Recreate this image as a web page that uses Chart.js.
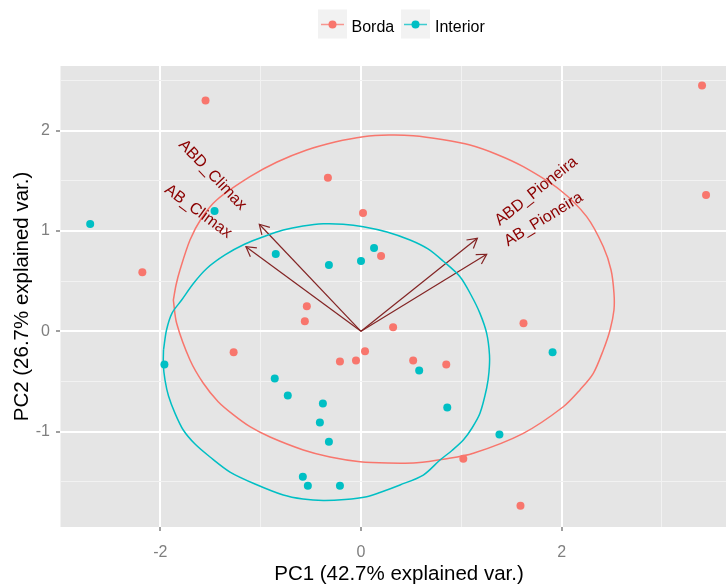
<!DOCTYPE html>
<html>
<head>
<meta charset="utf-8">
<script src="https://cdn.jsdelivr.net/npm/chart.js@4.4.1/dist/chart.umd.min.js"></script>
<style>
  html, body { margin: 0; padding: 0; background: #fff; }
  #wrap { width: 726px; height: 585px; }
</style>
</head>
<body>
<div id="wrap"><canvas id="pcaChart"></canvas></div>
<script>
// PCA scores (PC1, PC2)
const bordaPC1 = [-1.55, -0.33, 0.02, -2.18, 0.20, 3.40, 3.44, -0.54, -0.56, -1.27, 0.04, -0.21, -0.05, 0.32, 0.52, 0.85, 1.62, 1.02, 1.59];
const bordaPC2 = [2.30, 1.53, 1.18, 0.59, 0.75, 2.45, 1.36, 0.25, 0.10, -0.21, -0.20, -0.30, -0.29, 0.04, -0.29, -0.33, 0.08, -1.27, -1.74];
const interiorPC1 = [-1.46, -2.70, -0.85, -0.32, 0.00, 0.13, -1.96, -0.86, -0.73, -0.38, -0.41, -0.32, -0.58, -0.53, -0.21, 0.58, 0.86, 1.91, 1.38];
const interiorPC2 = [1.20, 1.07, 0.77, 0.66, 0.70, 0.83, -0.33, -0.47, -0.64, -0.72, -0.91, -1.10, -1.45, -1.54, -1.54, -0.39, -0.76, -0.21, -1.03];

// ellipse outlines
const bordaEllX = [-1.871, -1.844, -1.805, -1.705, -1.595, -1.439, -1.107, -0.837, -0.541, -0.259, 0.023, 0.279, 0.521, 0.808, 1.087, 1.356, 1.618, 1.984, 2.250, 2.416, 2.493, 2.522, 2.522, 2.483, 2.416, 2.316, 2.183, 2.017, 1.618, 1.120, 0.837, 0.555, 0.269, -0.010, -0.309, -0.575, -0.907, -1.107, -1.274, -1.424, -1.572, -1.705, -1.838, -1.871];
const bordaEllY = [0.312, 0.462, 0.611, 0.910, 1.120, 1.309, 1.541, 1.688, 1.808, 1.887, 1.940, 1.957, 1.950, 1.912, 1.857, 1.763, 1.641, 1.409, 1.143, 0.843, 0.611, 0.382, 0.212, 0.013, -0.186, -0.419, -0.584, -0.752, -1.017, -1.216, -1.273, -1.310, -1.313, -1.300, -1.253, -1.183, -1.054, -0.951, -0.831, -0.702, -0.518, -0.286, 0.080, 0.312];
const interiorEllX = [-1.969, -1.939, -1.884, -1.788, -1.675, -1.538, -1.356, -1.157, -0.967, -0.775, -0.578, -0.376, -0.179, 0.023, 0.259, 0.489, 0.668, 0.818, 0.987, 1.097, 1.186, 1.253, 1.281, 1.276, 1.253, 1.186, 1.107, 1.020, 0.907, 0.788, 0.621, 0.389, 0.189, 0.057, -0.160, -0.376, -0.578, -0.775, -1.057, -1.306, -1.505, -1.655, -1.772, -1.854, -1.919, -1.954, -1.971, -1.969];
const interiorEllY = [-0.186, 0.013, 0.182, 0.312, 0.472, 0.626, 0.761, 0.870, 0.945, 1.010, 1.050, 1.072, 1.068, 1.043, 0.990, 0.910, 0.821, 0.701, 0.544, 0.362, 0.179, -0.020, -0.236, -0.406, -0.565, -0.818, -0.964, -1.084, -1.188, -1.283, -1.433, -1.532, -1.607, -1.649, -1.677, -1.687, -1.672, -1.632, -1.522, -1.403, -1.253, -1.124, -0.984, -0.818, -0.645, -0.486, -0.336, -0.186];

// variable loadings (arrow tips)
const varNames = ['ABD_Climax', 'AB_Climax', 'ABD_Pioneira', 'AB_Pioneira'];
const varPC1 = [-1.014, -1.147, 1.160, 1.253];
const varPC2 = [1.067, 0.844, 0.927, 0.768];

const groupNames = ['Borda', 'Interior'];
const groupColors = ['#F8766D', '#00BFC4'];

const xTickValues = [-3, -2, -1, 0, 1, 2, 3];
const xTickLabels = [-2, 0, 2];
const yTickValues = [-1.5, -1, -0.5, 0, 0.5, 1, 1.5, 2, 2.5];
const yTickLabels = [-1, 0, 1, 2];

const xTitle = 'PC1 (42.7% explained var.)';
const yTitle = 'PC2 (26.7% explained var.)';

const FONT = "'Liberation Sans', Arial, Helvetica, sans-serif";
const arrowColor = '#832424';
const labelColor = '#8B0000';

function toXY(xs, ys) {
  return xs.map((x, i) => ({ x: x, y: ys[i] }));
}

const arrowSets = varNames.map((name, i) => ({
  label: name,
  isArrow: true,
  data: [{ x: 0, y: 0 }, { x: varPC1[i], y: varPC2[i] }],
  showLine: true,
  borderColor: arrowColor,
  borderWidth: 1.2,
  pointRadius: 0,
  tension: 0
}));

function ellipseSet(xs, ys, color) {
  return {
    data: toXY(xs, ys),
    showLine: true,
    borderColor: color,
    borderWidth: 1.5,
    pointRadius: 0,
    tension: 0.3
  };
}

function pointSet(name, xs, ys, color) {
  return {
    label: name,
    data: toXY(xs, ys),
    backgroundColor: color,
    borderColor: color,
    borderWidth: 0,
    pointRadius: 4
  };
}

// index 0 is drawn on top
const datasets = [
  ellipseSet(interiorEllX, interiorEllY, groupColors[1]),
  ellipseSet(bordaEllX, bordaEllY, groupColors[0]),
  pointSet('Interior', interiorPC1, interiorPC2, groupColors[1]),
  pointSet('Borda', bordaPC1, bordaPC2, groupColors[0]),
  ...arrowSets
];

// panel background, arrow heads, variable labels, legend, axis titles
const biplotExtras = {
  id: 'biplotExtras',
  beforeDraw(chart) {
    const { ctx, chartArea: a } = chart;
    ctx.save();
    ctx.fillStyle = '#E5E5E5';
    ctx.fillRect(a.left, a.top, a.right - a.left, a.bottom - a.top);
    ctx.restore();
  },
  afterDatasetDraw(chart, args) {
    const ds = chart.data.datasets[args.index];
    if (!ds.isArrow) return;
    const [o, tip] = args.meta.data;
    const ang = Math.atan2(tip.y - o.y, tip.x - o.x);
    const len = 11;
    const ctx = chart.ctx;
    ctx.save();
    ctx.strokeStyle = arrowColor;
    ctx.lineWidth = 1.2;
    ctx.beginPath();
    ctx.moveTo(tip.x - len * Math.cos(ang - Math.PI / 6), tip.y - len * Math.sin(ang - Math.PI / 6));
    ctx.lineTo(tip.x, tip.y);
    ctx.lineTo(tip.x - len * Math.cos(ang + Math.PI / 6), tip.y - len * Math.sin(ang + Math.PI / 6));
    ctx.stroke();
    ctx.restore();
  },
  afterDatasetsDraw(chart) {
    const ctx = chart.ctx;
    ctx.save();
    ctx.font = '16px ' + FONT;
    ctx.fillStyle = labelColor;
    ctx.textAlign = 'center';
    ctx.textBaseline = 'middle';
    chart.data.datasets.forEach((ds, i) => {
      if (!ds.isArrow) return;
      const [o, tip] = chart.getDatasetMeta(i).data;
      const dx = tip.x - o.x, dy = tip.y - o.y;
      const theta = Math.atan(dy / dx);
      const w = ctx.measureText(ds.label).width;
      // hjust like ggbiplot: text starts a quarter width past the tip
      const s = Math.sign(dx) * 0.75 * w;
      ctx.save();
      ctx.translate(tip.x + s * Math.cos(theta), tip.y + s * Math.sin(theta));
      ctx.rotate(theta);
      ctx.fillText(ds.label, 0, 0);
      ctx.restore();
    });
    ctx.restore();
  },
  afterDraw(chart) {
    const ctx = chart.ctx;
    ctx.save();
    // legend
    const keyX = [318, 401];
    const textX = [351.5, 435];
    groupNames.forEach((name, i) => {
      ctx.fillStyle = '#F2F2F2';
      ctx.fillRect(keyX[i], 9.5, 29, 29);
      ctx.strokeStyle = groupColors[i];
      ctx.globalAlpha = 0.75;
      ctx.lineWidth = 1.5;
      ctx.beginPath();
      ctx.moveTo(keyX[i] + 3, 24.5);
      ctx.lineTo(keyX[i] + 26, 24.5);
      ctx.stroke();
      ctx.globalAlpha = 1;
      ctx.fillStyle = groupColors[i];
      ctx.beginPath();
      ctx.arc(keyX[i] + 14.5, 24.5, 4, 0, Math.PI * 2);
      ctx.fill();
      ctx.fillStyle = '#000';
      ctx.font = '16px ' + FONT;
      ctx.textAlign = 'left';
      ctx.textBaseline = 'alphabetic';
      ctx.fillText(name, textX[i], 32.3);
    });
    // axis titles
    ctx.font = '20.5px ' + FONT;
    ctx.fillStyle = '#000';
    ctx.textAlign = 'center';
    ctx.textBaseline = 'middle';
    ctx.fillText(xTitle, 399, 574);
    ctx.translate(22, 296.5);
    ctx.rotate(-Math.PI / 2);
    ctx.fillText(yTitle, 0, 0);
    ctx.restore();
  }
};

function gridFor(majors) {
  return {
    color: c => majors.includes(c.tick.value) ? '#FFFFFF' : '#F2F2F2',
    lineWidth: c => majors.includes(c.tick.value) ? 2 : 1,
    tickColor: c => majors.includes(c.tick.value) ? '#7F7F7F' : 'rgba(0,0,0,0)',
    tickWidth: 1.5,
    tickLength: 4,
    drawTicks: true
  };
}

new Chart(document.getElementById('pcaChart'), {
  type: 'scatter',
  data: { datasets: datasets },
  options: {
    responsive: true,
    maintainAspectRatio: false,
    animation: false,
    events: [],
    layout: {
      autoPadding: false,
      padding: { top: 66, left: 0, right: 0, bottom: 0 }
    },
    plugins: {
      legend: { display: false },
      tooltip: { enabled: false }
    },
    scales: {
      x: {
        type: 'linear',
        min: -3.001,
        max: 3.639,
        border: { display: false },
        grid: gridFor(xTickLabels),
        afterBuildTicks: scale => { scale.ticks = xTickValues.map(v => ({ value: v })); },
        afterFit: scale => {
          scale.height = 58;
          scale.paddingLeft = 0;
          scale.paddingRight = 0;
        },
        ticks: {
          autoSkip: false,
          maxRotation: 0,
          padding: 12,
          color: '#7F7F7F',
          font: { family: FONT, size: 16 },
          callback: v => xTickLabels.includes(v) ? String(v) : ''
        }
      },
      y: {
        type: 'linear',
        min: -1.951,
        max: 2.645,
        border: { display: false },
        grid: gridFor(yTickLabels),
        afterBuildTicks: scale => { scale.ticks = yTickValues.map(v => ({ value: v })); },
        afterFit: scale => {
          scale.width = 60;
          scale.paddingTop = 0;
          scale.paddingBottom = 0;
        },
        ticks: {
          autoSkip: false,
          padding: 6,
          color: '#7F7F7F',
          font: { family: FONT, size: 16 },
          callback: v => yTickLabels.includes(v) ? String(v) : ''
        }
      }
    }
  },
  plugins: [biplotExtras]
});
</script>
</body>
</html>
